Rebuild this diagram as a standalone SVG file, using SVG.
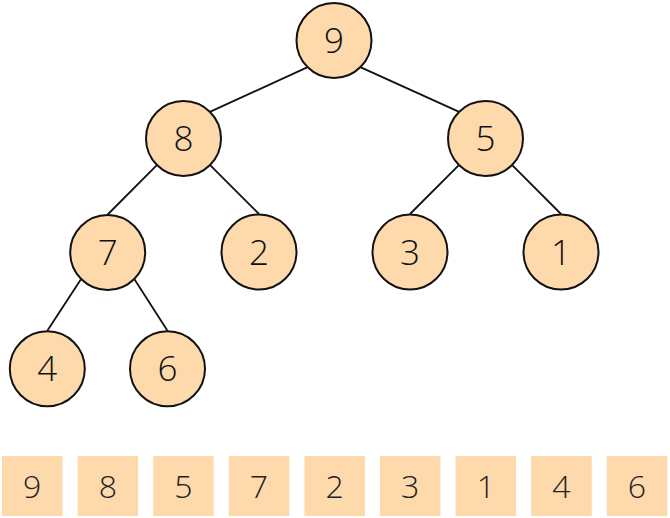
<svg xmlns="http://www.w3.org/2000/svg" width="670" height="518" viewBox="0 0 670 518">
<style>
.n circle{fill:#FDD9AB;stroke:#111;stroke-width:2}
.n text{font-family:"Open Sans","Noto Sans",sans-serif;font-size:35px;font-weight:300;fill:#111;text-anchor:middle}
.e line{stroke:#111;stroke-width:1.8}
.a rect{fill:#FDD9AB}
.a text{font-family:"Open Sans","Noto Sans",sans-serif;font-size:32px;font-weight:300;fill:#222;text-anchor:middle}
</style>
<rect width="670" height="518" fill="#fff"/>
<g id="connectors" class="e">
<line x1="307.1" y1="67.4" x2="210.4" y2="111.6"/>
<line x1="360.9" y1="67.4" x2="458.6" y2="111.6"/>
<line x1="156.6" y1="165.4" x2="107.7" y2="214.5"/>
<line x1="210.4" y1="165.4" x2="259" y2="214"/>
<line x1="458.6" y1="165.4" x2="410" y2="214"/>
<line x1="512.4" y1="165.4" x2="561" y2="214"/>
<line x1="80.8" y1="279.4" x2="47.3" y2="330.7"/>
<line x1="134.6" y1="279.4" x2="167.5" y2="330.7"/>
</g>
<g id="node9" class="n"><circle cx="334" cy="40.5" r="37.5"/><text x="334" y="53">9</text></g>
<g id="node8" class="n"><circle cx="183.5" cy="138.5" r="37.5"/><text x="183.5" y="151">8</text></g>
<g id="node5" class="n"><circle cx="485.5" cy="138.5" r="37.5"/><text x="485.5" y="151">5</text></g>
<g id="node7" class="n"><circle cx="107.7" cy="252.5" r="37.5"/><text x="107.7" y="265">7</text></g>
<g id="node2" class="n"><circle cx="259" cy="252" r="37.5"/><text x="259" y="264.5">2</text></g>
<g id="node3" class="n"><circle cx="410" cy="252" r="37.5"/><text x="410" y="264.5">3</text></g>
<g id="node1" class="n"><circle cx="561" cy="252" r="37.5"/><text x="561" y="264.5">1</text></g>
<g id="node4" class="n"><circle cx="47.3" cy="368.7" r="37.5"/><text x="47.3" y="381.2">4</text></g>
<g id="node6" class="n"><circle cx="167.5" cy="368.7" r="37.5"/><text x="167.5" y="381.2">6</text></g>
<g id="array" class="a">
<g id="a0"><rect x="2" y="456" width="60.5" height="60"/><text x="32.2" y="498">9</text></g>
<g id="a1"><rect x="77.6" y="456" width="60.5" height="60"/><text x="107.8" y="498">8</text></g>
<g id="a2"><rect x="153.2" y="456" width="60.5" height="60"/><text x="183.4" y="498">5</text></g>
<g id="a3"><rect x="228.8" y="456" width="60.5" height="60"/><text x="259" y="498">7</text></g>
<g id="a4"><rect x="304.4" y="456" width="60.5" height="60"/><text x="334.6" y="498">2</text></g>
<g id="a5"><rect x="380" y="456" width="60.5" height="60"/><text x="410.2" y="498">3</text></g>
<g id="a6"><rect x="455.6" y="456" width="60.5" height="60"/><text x="485.8" y="498">1</text></g>
<g id="a7"><rect x="531.2" y="456" width="60.5" height="60"/><text x="561.4" y="498">4</text></g>
<g id="a8"><rect x="606.8" y="456" width="60.5" height="60"/><text x="637" y="498">6</text></g>
</g>
</svg>
